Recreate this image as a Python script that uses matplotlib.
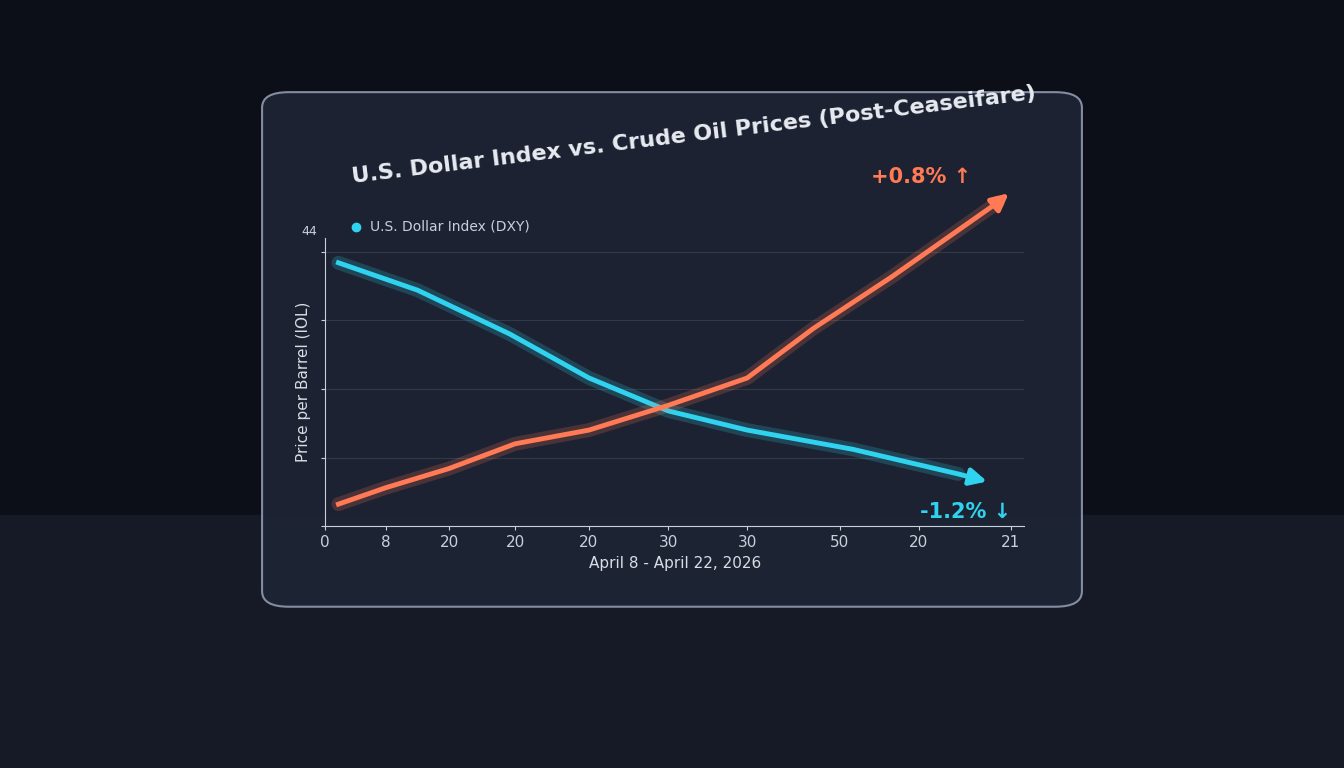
import matplotlib
matplotlib.use("Agg")
import matplotlib.pyplot as plt
from matplotlib.patches import FancyBboxPatch

dxy_x = [0.5, 3.5, 7, 10, 13, 16, 20, 24]
dxy_y = [96, 86, 70, 54, 42, 35, 28, 19]
oil_x = [0.5, 2.3, 4.7, 7.2, 10, 13, 16, 18.5, 21.5, 25.5]
oil_y = [8, 14, 21, 30, 35, 44, 54, 72, 91, 118]
tick_pos = [0, 2.3, 4.7, 7.2, 10, 13, 16, 19.5, 22.5, 26]
tick_labels = ["0", "8", "20", "20", "20", "30", "30", "50", "20", "21"]

fig = plt.figure(figsize=(13.44, 7.68), dpi=100)
fig.patch.set_facecolor("#0c0f18")
bg = fig.add_axes([0, 0, 1, 1]); bg.axis("off")
bg.set_xlim(0, 1); bg.set_ylim(0, 1)
bg.add_patch(plt.Rectangle((0, 0), 1, 0.33, color="#151a26", zorder=0))
bg.add_patch(FancyBboxPatch((0.195, 0.21), 0.61, 0.67, boxstyle="round,pad=0,rounding_size=0.02",
             facecolor="#1d2433", edgecolor="#8a93a8", linewidth=1.5, alpha=0.95))
bg.text(0.262, 0.77, "U.S. Dollar Index vs. Crude Oil Prices (Post-Ceaseifare)",
        color="#e8ecf2", fontsize=16, fontweight="bold", rotation=7, ha="left", va="center",
        rotation_mode="anchor")
bg.plot([0.265], [0.705], "o", color="#2fd3f0", ms=6)
bg.text(0.275, 0.705, "U.S. Dollar Index (DXY)", color="#c8d0dc", fontsize=10, va="center")

ax = fig.add_axes([0.242, 0.315, 0.52, 0.375])
ax.set_facecolor("none")
ax.plot(dxy_x, dxy_y, color="#2fd3f0", lw=10, alpha=0.2, solid_capstyle="round")
ax.plot(dxy_x, dxy_y, color="#2fd3f0", lw=3.5)
ax.annotate("", xy=(dxy_x[-1] + 1.2, dxy_y[-1] - 3), xytext=(dxy_x[-1], dxy_y[-1]),
            arrowprops=dict(arrowstyle="-|>", color="#2fd3f0", lw=3.5, mutation_scale=25))
ax.plot(oil_x, oil_y, color="#ff7a55", lw=10, alpha=0.2, solid_capstyle="round", clip_on=False)
ax.plot(oil_x, oil_y, color="#ff7a55", lw=3.5, clip_on=False)
ax.annotate("", xy=(oil_x[-1] + 0.5, oil_y[-1] + 4), xytext=(oil_x[-1], oil_y[-1]),
            arrowprops=dict(arrowstyle="-|>", color="#ff7a55", lw=3.5, mutation_scale=25),
            annotation_clip=False)
ax.text(24.5, 125, "+0.8% ↑", color="#ff7a55", fontsize=15, fontweight="bold", ha="right", clip_on=False)
ax.text(26, 5, "-1.2% ↓", color="#2fd3f0", fontsize=15, fontweight="bold", ha="right", va="center")
ax.set_xlim(0, 26.5); ax.set_ylim(0, 105)
ax.set_xticks(tick_pos); ax.set_xticklabels(tick_labels, color="#d8dde6", fontsize=11)
ax.set_yticks([0, 25, 50, 75, 100]); ax.set_yticklabels([])
ax.text(-0.3, 106, "44", color="#c8d0dc", fontsize=9, ha="right")
ax.grid(axis="y", color="#8a93a8", alpha=0.2)
for s in ["top", "right"]:
    ax.spines[s].set_visible(False)
for s in ["left", "bottom"]:
    ax.spines[s].set_color("#c8d0dc")
ax.tick_params(colors="#c8d0dc", length=3)
ax.set_ylabel("Price per Barrel (IOL)", color="#d8dde6", fontsize=11)
ax.set_xlabel("April 8 - April 22, 2026", color="#d8dde6", fontsize=11)
fig.savefig("out.png", dpi=100, facecolor=fig.get_facecolor())
